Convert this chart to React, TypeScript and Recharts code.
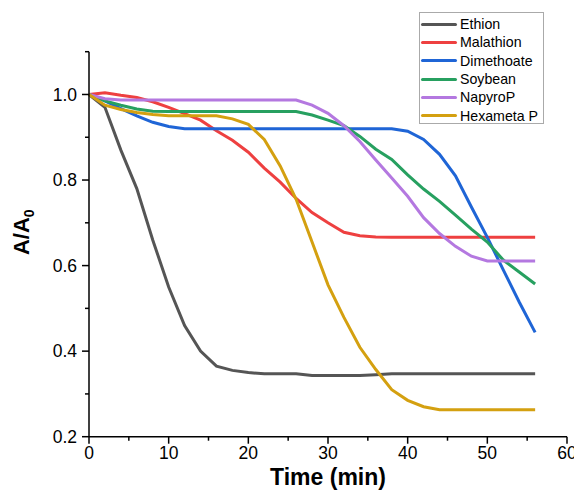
import { LineChart, Line, XAxis, YAxis, Legend } from "recharts"

// time points (min)
const times = [0, 2, 4, 6, 8, 10, 12, 14, 16, 18, 20, 22, 24, 26, 28, 30, 32, 34, 36, 38, 40, 42, 44, 46, 48, 50, 52, 54, 56]

const ethion = [1.0, 0.97, 0.87, 0.78, 0.66, 0.55, 0.46, 0.4, 0.365, 0.355, 0.35, 0.347, 0.347, 0.347, 0.343, 0.343, 0.343, 0.343, 0.345, 0.347, 0.347, 0.347, 0.347, 0.347, 0.347, 0.347, 0.347, 0.347, 0.347]
const malathion = [1.0, 1.004, 0.998, 0.993, 0.983, 0.97, 0.955, 0.94, 0.915, 0.893, 0.865, 0.828, 0.795, 0.757, 0.724, 0.7, 0.678, 0.67, 0.667, 0.666, 0.666, 0.666, 0.666, 0.666, 0.666, 0.666, 0.666, 0.666, 0.666]
const dimethoate = [1.0, 0.985, 0.967, 0.95, 0.935, 0.925, 0.92, 0.92, 0.92, 0.92, 0.92, 0.92, 0.92, 0.92, 0.92, 0.92, 0.92, 0.92, 0.92, 0.92, 0.914, 0.895, 0.86, 0.81, 0.737, 0.666, 0.59, 0.515, 0.444]
const soybean = [1.0, 0.985, 0.975, 0.966, 0.961, 0.96, 0.96, 0.96, 0.96, 0.96, 0.96, 0.96, 0.96, 0.96, 0.952, 0.94, 0.927, 0.902, 0.872, 0.848, 0.812, 0.779, 0.75, 0.718, 0.685, 0.655, 0.613, 0.585, 0.557]
const napyroP = [1.0, 0.99, 0.987, 0.987, 0.987, 0.987, 0.987, 0.987, 0.987, 0.987, 0.987, 0.987, 0.987, 0.987, 0.975, 0.956, 0.927, 0.89, 0.847, 0.805, 0.762, 0.712, 0.675, 0.645, 0.622, 0.611, 0.611, 0.611, 0.611]
const hexametaP = [1.0, 0.975, 0.965, 0.958, 0.953, 0.95, 0.95, 0.95, 0.95, 0.943, 0.93, 0.895, 0.833, 0.755, 0.655, 0.555, 0.479, 0.409, 0.357, 0.31, 0.285, 0.27, 0.263, 0.263, 0.263, 0.263, 0.263, 0.263, 0.263]

const xTicks = [0, 5, 10, 15, 20, 25, 30, 35, 40, 45, 50, 55, 60]
const yTicks = [0.2, 0.3, 0.4, 0.5, 0.6, 0.7, 0.8, 0.9, 1.0, 1.1]

const series = [
  { key: "ethion", name: "Ethion", color: "#555555", values: ethion },
  { key: "malathion", name: "Malathion", color: "#ee4040", values: malathion },
  { key: "dimethoate", name: "Dimethoate", color: "#1f65d6", values: dimethoate },
  { key: "soybean", name: "Soybean", color: "#27a060", values: soybean },
  { key: "napyroP", name: "NapyroP", color: "#b478e0", values: napyroP },
  { key: "hexametaP", name: "Hexameta P", color: "#d4a010", values: hexametaP },
]

const data = times.map((t, i) => {
  const row: any = { time: t }
  series.forEach((s) => { row[s.key] = s.values[i] })
  return row
})

const FONT = "'Liberation Sans', Arial, sans-serif"

const XTick = (props: any) => {
  const { x, y, payload } = props
  const v = payload.value
  const major = v % 10 === 0
  return (
    <g>
      <line x1={x} x2={x} y1={y} y2={y + (major ? 7 : 4)} stroke="#000" strokeWidth={1.5} />
      {major && (
        <text x={x} y={y + 22} textAnchor="middle" fontSize={17.5} fontFamily={FONT} fill="#000">{v}</text>
      )}
    </g>
  )
}

const YTick = (props: any) => {
  const { x, y, payload } = props
  const v = payload.value
  const major = Math.round(v * 10) % 2 === 0 && v < 1.05
  return (
    <g>
      <line x1={x} x2={x - (major ? 7 : 4)} y1={y} y2={y} stroke="#000" strokeWidth={1.5} />
      {major && (
        <text x={x - 12} y={y} dy="0.35em" textAnchor="end" fontSize={17.5} fontFamily={FONT} fill="#000">{v.toFixed(1)}</text>
      )}
    </g>
  )
}

const XLabel = (props: any) => {
  const { x, width, y } = props.viewBox
  return (
    <text x={x + width / 2} y={y + 48} textAnchor="middle" fontSize={23} fontWeight="bold" fontFamily={FONT} fill="#000">
      Time (min)
    </text>
  )
}

const YLabel = (props: any) => {
  const { y, height } = props.viewBox
  const cx = 21
  const cy = y + height / 2 - 12
  return (
    <text x={cx} y={cy} transform={`rotate(-90, ${cx}, ${cy})`} textAnchor="middle" fontSize={22} fontWeight="bold" fontFamily={FONT} fill="#000">
      A/A<tspan dy={5} fontSize={14}>0</tspan>
    </text>
  )
}

const LegendBox = () => (
  <div style={{ border: "1px solid #aaa", background: "#fff", width: 125, height: 112, boxSizing: "border-box", padding: "2px 0 0 1px", fontFamily: FONT, fontSize: 14.2, color: "#000" }}>
    {series.map((s) => (
      <div key={s.key} style={{ display: "flex", alignItems: "center", height: 18.3 }}>
        <div style={{ width: 36, height: 3, background: s.color, borderRadius: 1.5, marginRight: 3, flexShrink: 0 }} />
        <span style={{ lineHeight: "18px", whiteSpace: "nowrap" }}>{s.name}</span>
      </div>
    ))}
  </div>
)

export default function App() {
  return (
    <LineChart width={574} height={484} data={data} margin={{ top: 43.7, right: 15, bottom: 0, left: 0 }}>
      <XAxis
        dataKey="time"
        type="number"
        domain={[0, 60]}
        ticks={xTicks}
        interval={0}
        height={55.3}
        tickSize={0}
        tickMargin={0}
        tickLine={false}
        tick={<XTick />}
        axisLine={{ stroke: "#000", strokeWidth: 1.5 }}
        label={<XLabel />}
      />
      <YAxis
        type="number"
        domain={[0.2, 1.1]}
        ticks={yTicks}
        interval={0}
        width={81}
        tickSize={0}
        tickMargin={0}
        tickLine={false}
        tick={<YTick />}
        axisLine={{ stroke: "#000", strokeWidth: 1.5 }}
        label={<YLabel />}
      />
      <Legend
        layout="vertical"
        verticalAlign="middle"
        align="center"
        content={<LegendBox />}
        wrapperStyle={{ position: "absolute", left: 411, top: 4, width: 125 }}
      />
      {series.map((s) => (
        <Line
          key={s.key}
          type="linear"
          dataKey={s.key}
          name={s.name}
          stroke={s.color}
          strokeWidth={3}
          dot={false}
          isAnimationActive={false}
        />
      ))}
    </LineChart>
  )
}
